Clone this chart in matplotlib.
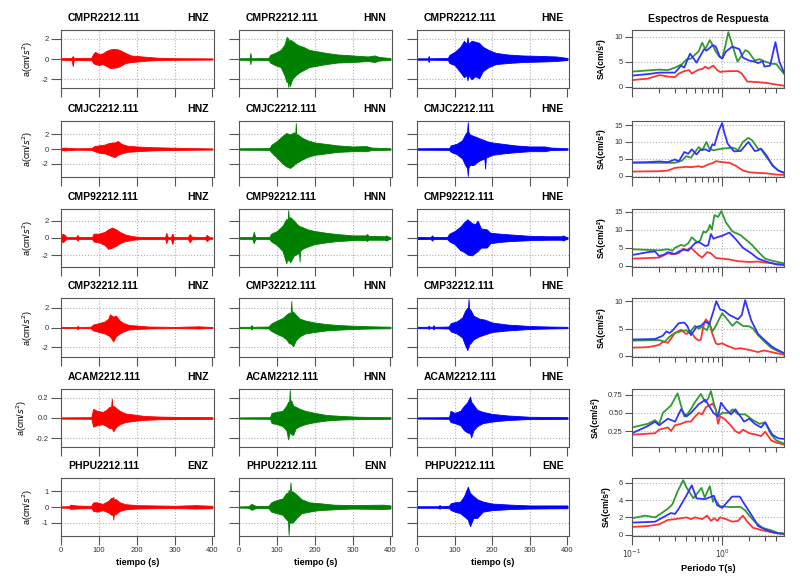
import numpy as np
import matplotlib.pyplot as plt

plt.rcParams['font.family'] = ['Liberation Sans', 'DejaVu Sans']
plt.rcParams['axes.unicode_minus'] = False

# --- stations / components ---
stations = ['CMPR2212.111', 'CMJC2212.111', 'CMP92212.111',
            'CMP32212.111', 'ACAM2212.111', 'PHPU2212.111']
components = [['HNZ', 'HNN', 'HNE']] * 5 + [['ENZ', 'ENN', 'ENE']]

# --- acceleration envelopes: (t [s], upper, lower) ---
cmpr_z = [(0, .08, -.08), (28, .1, -.1), (31, .3, -.7), (34, .1, -.1), (80, .12, -.12), (85, .5, -.4),
          (90, .7, -.5), (100, .5, -.6), (110, .55, -.5), (120, .8, -.7), (130, .95, -.9), (140, 1.0, -.85),
          (150, .95, -.8), (160, .8, -.6), (170, .6, -.4), (185, .35, -.3), (200, .3, -.25), (230, .2, -.15),
          (260, .12, -.1), (300, .08, -.08), (400, .06, -.06)]
cmpr_n = [(0, .08, -.08), (28, .08, -.08), (30, .6, -.5), (32, .08, -.08), (78, .1, -.1), (82, .4, -.35),
          (95, .6, -.6), (110, .9, -.8), (120, 1.4, -1.6), (126, 2.2, -2.3), (128, 1.6, -1.8), (130, 2.1, -2.75),
          (131.5, 1.5, -1.9), (134, 1.9, -2.7), (140, 1.8, -2.0), (150, 1.5, -1.6), (160, 1.3, -1.3),
          (170, 1.2, -1.1), (185, .9, -.8), (200, .8, -.7), (230, .6, -.5), (260, .45, -.35), (300, .35, -.3),
          (340, .25, -.2), (358, .35, -.3), (370, .2, -.15), (400, .1, -.1)]
cmpr_e = [(0, .07, -.07), (29, .07, -.07), (31, .3, -.3), (33, .07, -.07), (82, .1, -.1), (86, .4, -.4),
          (100, .7, -.6), (115, 1.2, -1.3), (125, 1.8, -1.8), (132, 1.5, -1.6), (134, 2.15, -2.1), (137, 1.5, -1.6),
          (145, 1.8, -2.0), (155, 1.7, -1.7), (165, 1.6, -1.9), (175, 1.2, -1.2), (190, .9, -.8), (210, .6, -.5),
          (240, .45, -.4), (280, .35, -.3), (330, .3, -.25), (370, .25, -.2), (400, .1, -.1)]

cmjc_z = [(0, .15, -.15), (10, .2, -.2), (20, .15, -.15), (40, .1, -.1), (80, .12, -.12), (88, .4, -.3),
          (100, .5, -.5), (115, .6, -.6), (125, .8, -.8), (135, .9, -1.0), (142, .9, -1.1), (150, 1.1, -.8),
          (160, .7, -.6), (175, .45, -.4), (200, .35, -.3), (240, .25, -.2), (280, .2, -.15), (320, .15, -.12),
          (400, .08, -.08)]
cmjc_n = [(0, .1, -.1), (80, .12, -.12), (86, .6, -.5), (100, 1.1, -1.2), (115, 1.8, -2.0), (125, 2.2, -2.4),
          (135, 2.0, -2.6), (145, 2.3, -2.2), (148.5, 2.0, -1.9), (150, 3.55, -2.0), (151.5, 2.0, -1.9),
          (155, 2.0, -1.8), (165, 1.6, -1.5), (180, 1.2, -1.1), (200, .9, -.8), (230, .7, -.6), (260, .5, -.4),
          (300, .35, -.3), (336, .4, -.3), (350, .2, -.15), (400, .1, -.1)]
cmjc_e = [(0, .1, -.1), (85, .12, -.12), (90, .5, -.4), (105, .7, -.7), (120, 1.2, -1.3), (128, 2.0, -2.2),
          (133, 2.4, -2.6), (135, 3.7, -3.7), (136.5, 2.4, -2.6), (140, 2.0, -2.2), (150, 1.8, -2.2),
          (165, 1.5, -1.6), (179, 1.2, -1.3), (181, 1.2, -2.7), (183, 1.1, -1.2), (200, .9, -.8), (230, .7, -.6),
          (260, .5, -.45), (300, .35, -.3), (340, .35, -.3), (355, .2, -.15), (400, .1, -.1)]

cmp9_z = [(0, .1, -.1), (4, .5, -.5), (10, .35, -.3), (14, .1, -.1), (40, .1, -.1), (43, .35, -.3), (47, .1, -.1),
          (82, .12, -.12), (86, .5, -.4), (100, .5, -.5), (115, .7, -.8), (125, 1.0, -1.25), (135, 1.2, -1.1),
          (145, 1.0, -.9), (155, .7, -.6), (170, .4, -.35), (190, .2, -.2), (210, .12, -.12), (275, .1, -.1),
          (278, .6, -.6), (282, .1, -.1), (290, .1, -.1), (294, .5, -.7), (298, .1, -.1), (335, .1, -.1),
          (340, .45, -.5), (345, .15, -.15), (380, .1, -.1), (385, .35, -.35), (392, .1, -.1), (400, .08, -.08)]
cmp9_n = [(0, .1, -.1), (35, .1, -.1), (39, .7, -.6), (43, .1, -.1), (80, .12, -.12), (85, .5, -.4),
          (100, .8, -.8), (115, 1.4, -1.5), (125, 2.2, -2.9), (128.5, 2.0, -2.2), (130, 3.2, -2.6),
          (131.5, 2.2, -2.4), (135, 2.4, -2.8), (145, 2.0, -2.0), (155, 1.5, -1.8), (158.5, 1.4, -1.6),
          (160, 1.4, -2.7), (161.5, 1.3, -1.5), (165, 1.3, -1.3), (180, 1.0, -1.0), (200, .8, -.7), (230, .6, -.5),
          (260, .45, -.35), (300, .3, -.25), (335, .3, -.25), (338, .45, -.35), (342, .25, -.2), (385, .2, -.2),
          (389, .3, -.3), (395, .15, -.15), (400, .1, -.1)]
cmp9_e = [(0, .12, -.12), (36, .1, -.1), (40, .3, -.3), (44, .1, -.1), (80, .12, -.12), (86, .5, -.4),
          (100, .8, -.7), (115, 1.3, -1.4), (125, 1.8, -1.6), (134, 2.15, -1.9), (146, 1.7, -2.0), (155, 1.6, -1.7),
          (161, 2.0, -1.5), (170, 1.1, -1.1), (185, 1.0, -1.1), (195, .6, -.6), (220, .5, -.45), (250, .4, -.35),
          (300, .25, -.25), (350, .2, -.2), (385, .2, -.2), (388, .3, -.3), (395, .15, -.15), (400, .1, -.1)]

cmp3_z = [(0, .05, -.05), (40, .05, -.05), (44, .15, -.15), (48, .05, -.05), (78, .08, -.08), (85, .3, -.3),
          (100, .45, -.45), (115, .6, -.6), (125, .9, -.8), (129, 1.33, -.9), (138, 1.1, -1.4), (145, 1.2, -.9),
          (155, .7, -.6), (165, .45, -.4), (180, .25, -.2), (200, .2, -.15), (230, .1, -.1), (300, .06, -.06),
          (362, .12, -.1), (400, .05, -.05)]
cmp3_n = [(0, .07, -.07), (30, .07, -.07), (33, .25, -.2), (36, .07, -.07), (78, .1, -.1), (85, .4, -.35),
          (100, .7, -.65), (115, .95, -.9), (125, 1.3, -1.2), (132, 1.5, -1.6), (136.5, 1.5, -1.6),
          (138, 2.67, -1.7), (139.5, 1.6, -1.7), (143, 1.6, -1.9), (150, 1.3, -1.3), (160, .9, -.9),
          (175, .7, -.6), (200, .5, -.45), (230, .35, -.3), (262, .25, -.22), (300, .18, -.15), (350, .12, -.1),
          (400, .08, -.08)]
cmp3_e = [(0, .07, -.07), (29, .07, -.07), (31, .2, -.15), (33, .07, -.07), (42, .07, -.07), (44, .25, -.2),
          (46, .07, -.07), (84, .1, -.1), (90, .45, -.4), (105, .6, -.6), (120, 1.0, -1.0), (128, 1.7, -1.8),
          (134, 2.0, -2.3), (135.5, 1.9, -2.0), (137, 2.87, -2.0), (138.5, 1.9, -1.7), (142, 1.8, -1.6),
          (150, 1.2, -1.2), (165, .9, -.9), (180, .8, -.7), (200, .5, -.45), (240, .3, -.3), (300, .15, -.15),
          (350, .1, -.1), (400, .07, -.07)]

acam_z = [(0, .006, -.006), (80, .008, -.008), (85, .09, -.085), (95, .07, -.07), (110, .06, -.06),
          (120, .08, -.08), (128, .11, -.1), (132.5, .11, -.1), (134, .19, -.1), (135.5, .12, -.11),
          (138, .12, -.13), (145, .1, -.09), (155, .07, -.06), (170, .045, -.04), (190, .035, -.03),
          (220, .02, -.018), (260, .014, -.012), (320, .01, -.01), (400, .008, -.008)]
acam_n = [(0, .006, -.006), (82, .008, -.008), (86, .05, -.05), (100, .06, -.06), (115, .07, -.08),
          (125, .12, -.12), (130, .16, -.21), (132.5, .16, -.15), (134, .273, -.15), (135.5, .17, -.15),
          (138, .17, -.16), (143, .12, -.165), (150, .11, -.1), (160, .09, -.08), (175, .07, -.06),
          (200, .05, -.04), (230, .03, -.025), (270, .02, -.015), (320, .012, -.01), (400, .008, -.008)]
acam_e = [(0, .006, -.006), (85, .008, -.008), (89, .07, -.04), (100, .05, -.05), (115, .07, -.07),
          (125, .12, -.12), (133, .15, -.14), (141, .21, -.15), (144, .16, -.19), (150, .13, -.12),
          (160, .08, -.08), (175, .06, -.05), (200, .04, -.035), (240, .025, -.02), (300, .012, -.01),
          (400, .008, -.008)]

phpu_z = [(0, .04, -.04), (20, .05, -.05), (25, .15, -.12), (40, .1, -.1), (60, .08, -.08), (80, .08, -.08),
          (85, .3, -.25), (95, .3, -.3), (110, .2, -.2), (125, .4, -.35), (133, .6, -.5), (136.5, .55, -.5),
          (138, .65, -.81), (139.5, .5, -.5), (145, .5, -.45), (155, .3, -.25), (170, .18, -.15), (200, .12, -.1),
          (250, .1, -.08), (300, .08, -.07), (355, .12, -.1), (400, .08, -.08)]
phpu_n = [(0, .04, -.04), (25, .05, -.05), (33, .2, -.18), (45, .06, -.06), (78, .08, -.08), (85, .3, -.3),
          (100, .45, -.4), (115, .55, -.5), (125, .9, -.8), (129.5, .9, -.9), (131, 1.1, -1.79), (132.5, 1.0, -1.0),
          (134.5, 1.0, -1.0), (136, 1.58, -1.0), (137.5, 1.0, -1.0), (142, 1.0, -1.0), (152, .8, -.7),
          (165, .5, -.4), (185, .3, -.3), (210, .25, -.2), (250, .15, -.15), (300, .12, -.1), (380, .15, -.13),
          (400, .1, -.1)]
phpu_e = [(0, .05, -.05), (55, .05, -.05), (60, .12, -.1), (65, .05, -.05), (85, .08, -.08), (90, .25, -.2),
          (100, .3, -.3), (115, .35, -.4), (125, .7, -.6), (135, 1.3, -.8), (141, .9, -1.23), (150, .7, -.7),
          (160, .5, -.7), (175, .35, -.3), (200, .22, -.2), (250, .15, -.13), (300, .1, -.1), (400, .1, -.08)]

traces = [[cmpr_z, cmpr_n, cmpr_e], [cmjc_z, cmjc_n, cmjc_e], [cmp9_z, cmp9_n, cmp9_e],
          [cmp3_z, cmp3_n, cmp3_e], [acam_z, acam_n, acam_e], [phpu_z, phpu_n, phpu_e]]

# --- response spectra: (period [s], SA) ---
sa_cmpr_z = [(.1, 1.3), (.15, 1.6), (.2, 2.3), (.22, 2.2), (.25, 2.0), (.3, 1.9), (.33, 2.6), (.38, 3.1), (.43, 3.3),
             (.46, 2.6), (.5, 3.0), (.55, 3.4), (.6, 3.5), (.65, 4.0), (.7, 3.6), (.8, 4.2), (.88, 3.3), (.95, 2.9),
             (1.0, 3.0), (1.2, 3.1), (1.5, 3.1), (1.65, 2.6), (1.9, 1.0), (2.5, .9), (3.2, .7), (4.0, .4), (5.0, .15)]
sa_cmpr_n = [(.1, 3.0), (.2, 3.4), (.25, 3.3), (.3, 3.8), (.36, 4.5), (.4, 5.4), (.45, 5.6), (.55, 7.1), (.6, 8.8),
             (.65, 7.5), (.73, 9.3), (.8, 8.0), (.85, 7.0), (.93, 6.0), (1.0, 5.7), (1.08, 8.0), (1.17, 10.9),
             (1.48, 5.0), (1.81, 7.3), (1.95, 7.0), (2.3, 5.2), (2.6, 5.5), (3.0, 5.0), (3.5, 4.6), (4.0, 4.5),
             (4.4, 3.5), (5.0, 2.3)]
sa_cmpr_e = [(.1, 2.2), (.15, 2.5), (.2, 2.8), (.3, 2.8), (.35, 4.2), (.38, 3.8), (.44, 6.6), (.52, 4.8),
             (.63, 7.5), (.67, 7.2), (.79, 8.3), (.85, 8.0), (.94, 6.0), (1.0, 5.6), (1.1, 7.0), (1.29, 8.0),
             (1.55, 7.5), (1.7, 5.8), (2.0, 5.2), (2.3, 5.0), (2.5, 4.7), (2.8, 5.1), (2.95, 4.0), (3.4, 4.2),
             (3.9, 8.9), (4.3, 5.0), (5.0, 2.3)]

sa_cmjc_z = [(.1, 1.2), (.2, 1.3), (.25, 1.5), (.3, 2.3), (.4, 2.6), (.45, 2.5), (.55, 2.8), (.6, 2.5), (.7, 3.3),
             (.8, 3.8), (.85, 4.3), (1.0, 4.0), (1.2, 3.8), (1.4, 3.0), (1.7, 1.5), (2.0, 1.0), (2.5, .8),
             (3.0, .7), (3.5, .5), (4.0, .3), (5.0, .2)]
sa_cmjc_n = [(.1, 3.8), (.2, 3.8), (.3, 3.8), (.36, 4.5), (.4, 5.8), (.45, 5.3), (.5, 7.0), (.55, 8.5), (.6, 7.5),
             (.67, 10.0), (.72, 8.0), (.8, 7.5), (.9, 7.8), (1.0, 8.0), (1.3, 8.3), (1.4, 8.0), (1.5, 7.5),
             (1.7, 10.0), (1.95, 11.2), (2.15, 10.5), (2.5, 8.0), (2.7, 7.8), (3.2, 5.0), (3.8, 2.5), (4.2, 1.5),
             (5.0, .7)]
sa_cmjc_e = [(.1, 3.9), (.15, 4.0), (.2, 4.2), (.25, 4.0), (.3, 4.8), (.33, 4.2), (.38, 7.0), (.42, 6.5),
             (.46, 7.8), (.52, 6.3), (.57, 7.6), (.65, 7.8), (.72, 7.2), (.78, 9.3), (.82, 9.0), (.92, 13.5),
             (1.0, 15.6), (1.05, 13.0), (1.15, 9.5), (1.35, 7.2), (1.6, 7.3), (1.95, 10.0), (2.1, 8.8), (2.3, 7.3),
             (2.5, 7.5), (2.7, 8.0), (3.1, 6.0), (3.6, 3.0), (4.2, 1.5), (5.0, .7)]

sa_cmp9_z = [(.1, 2.0), (.2, 2.3), (.22, 2.8), (.25, 3.5), (.28, 3.2), (.33, 3.5), (.37, 4.8), (.4, 4.3),
             (.45, 5.0), (.55, 3.0), (.6, 2.3), (.68, 3.8), (.75, 3.5), (.85, 2.2), (1.0, 2.0), (1.2, 1.8),
             (1.5, 1.3), (2.0, 1.1), (2.5, 1.2), (3.0, .9), (3.5, .8), (4.0, .4), (5.0, .3)]
sa_cmp9_n = [(.1, 4.6), (.2, 4.3), (.25, 4.6), (.28, 4.2), (.3, 5.0), (.35, 5.8), (.38, 5.5), (.42, 6.2),
             (.46, 7.9), (.53, 6.5), (.57, 7.0), (.62, 9.5), (.66, 9.2), (.7, 10.0), (.73, 11.3), (.77, 10.0),
             (.82, 14.0), (.9, 13.5), (.98, 15.1), (1.1, 12.0), (1.3, 9.5), (1.6, 8.5), (2.1, 6.0), (2.6, 3.5),
             (3.0, 2.0), (3.5, 1.5), (4.0, 1.2), (5.0, .6)]
sa_cmp9_e = [(.1, 3.0), (.15, 3.8), (.18, 4.0), (.2, 2.7), (.23, 3.2), (.25, 3.8), (.3, 3.3), (.33, 4.0),
             (.38, 4.5), (.42, 4.2), (.5, 6.3), (.55, 6.6), (.65, 5.5), (.7, 5.7), (.75, 8.8), (.8, 7.5),
             (.9, 8.0), (1.0, 8.3), (1.2, 9.2), (1.4, 7.5), (1.7, 5.0), (2.1, 3.5), (2.5, 2.0), (3.0, 1.3),
             (3.5, .8), (4.0, .5), (5.0, .3)]

sa_cmp3_z = [(.1, 1.5), (.15, 1.6), (.2, 2.0), (.22, 2.6), (.25, 2.4), (.28, 3.5), (.3, 4.2), (.35, 4.8),
             (.4, 4.0), (.45, 4.5), (.5, 3.3), (.55, 2.8), (.58, 3.0), (.62, 5.5), (.66, 6.7), (.72, 6.0),
             (.78, 4.0), (.85, 2.3), (.9, 2.1), (1.0, 2.3), (1.15, 1.8), (1.4, 1.3), (1.6, 1.4), (2.0, 1.1),
             (2.5, .7), (2.9, 1.0), (3.3, .8), (4.0, .5), (5.0, .2)]
sa_cmp3_n = [(.1, 2.8), (.2, 2.9), (.23, 2.6), (.26, 3.5), (.3, 4.2), (.35, 4.5), (.4, 4.7), (.43, 4.2),
             (.46, 4.8), (.5, 5.5), (.55, 5.0), (.6, 5.3), (.68, 4.7), (.72, 6.0), (.78, 4.5), (.85, 5.5),
             (1.0, 7.8), (1.1, 7.0), (1.3, 5.5), (1.45, 6.3), (1.7, 5.5), (2.0, 5.4), (2.2, 5.0), (2.5, 3.8),
             (3.0, 2.5), (3.5, 1.5), (4.0, 1.0), (5.0, .4)]
sa_cmp3_e = [(.1, 3.0), (.18, 3.1), (.22, 3.7), (.24, 4.5), (.26, 4.2), (.28, 4.6), (.33, 6.0), (.38, 6.1),
             (.41, 5.5), (.45, 3.8), (.52, 5.3), (.58, 5.5), (.65, 6.3), (.72, 5.8), (.8, 8.2), (.86, 10.0),
             (.95, 8.5), (1.05, 8.3), (1.2, 7.5), (1.5, 6.7), (1.65, 7.5), (1.8, 10.2), (2.1, 6.5), (2.5, 4.0),
             (3.0, 2.8), (3.5, 1.8), (4.0, 1.2), (5.0, .4)]

sa_acam_z = [(.1, .2), (.18, .22), (.2, .27), (.25, .3), (.27, .25), (.3, .33), (.35, .35), (.4, .38), (.45, .38),
             (.5, .45), (.55, .5), (.6, .48), (.66, .58), (.72, .6), (.78, .63), (.85, .55), (.9, .35), (.95, .45),
             (1.05, .42), (1.2, .35), (1.4, .25), (1.55, .22), (1.7, .27), (2.0, .22), (2.4, .2), (2.7, .18),
             (3.0, .24), (3.5, .12), (4.0, .09), (5.0, .06)]
sa_acam_n = [(.1, .3), (.15, .35), (.18, .4), (.2, .35), (.22, .5), (.27, .6), (.32, .77), (.35, .6), (.38, .45),
             (.42, .5), (.45, .55), (.5, .65), (.58, .76), (.65, .65), (.7, .7), (.75, .8), (.82, .6), (.9, .45),
             (1.0, .5), (1.2, .5), (1.3, .55), (1.5, .48), (1.8, .48), (2.2, .4), (2.6, .35), (3.0, .37),
             (3.5, .2), (4.0, .12), (5.0, .07)]
sa_acam_e = [(.1, .22), (.15, .32), (.18, .38), (.2, .33), (.25, .42), (.3, .38), (.35, .55), (.4, .45),
             (.45, .5), (.55, .62), (.65, .68), (.8, .5), (.9, .45), (.97, .64), (1.1, .55), (1.25, .48),
             (1.4, .55), (1.6, .45), (1.75, .38), (2.0, .42), (2.3, .35), (2.7, .3), (3.0, .37), (3.6, .2),
             (4.2, .15), (5.0, .14)]

sa_phpu_z = [(.1, .9), (.15, 1.0), (.2, 1.2), (.25, 1.7), (.3, 1.8), (.35, 1.9), (.4, 2.0), (.45, 1.8), (.5, 2.0),
             (.6, 1.8), (.68, 2.2), (.75, 1.6), (.82, 1.9), (.88, 1.6), (.95, 2.0), (1.1, 1.8), (1.3, 1.5),
             (1.5, 1.6), (1.7, 2.2), (1.9, 1.5), (2.2, .8), (2.8, .5), (3.5, .3), (4.2, .15), (5.0, .1)]
sa_phpu_n = [(.1, 1.9), (.14, 2.2), (.18, 2.0), (.2, 2.3), (.25, 3.0), (.28, 3.5), (.32, 5.0), (.37, 6.3),
             (.4, 5.5), (.48, 4.2), (.59, 5.4), (.64, 4.3), (.73, 5.6), (.79, 3.8), (.82, 4.2), (.94, 3.3),
             (1.2, 3.2), (1.6, 3.2), (1.8, 2.8), (2.0, 2.2), (2.3, 1.5), (2.8, .8), (3.5, .5), (4.2, .2), (5.0, .1)]
sa_phpu_e = [(.1, 1.4), (.18, 1.5), (.22, 2.0), (.27, 2.5), (.3, 2.4), (.33, 3.0), (.4, 4.5), (.46, 5.7),
             (.52, 4.2), (.64, 4.1), (.81, 4.5), (.88, 3.4), (1.0, 3.1), (1.29, 4.4), (1.57, 4.4), (1.7, 3.8),
             (2.2, 2.0), (2.5, 1.0), (3.0, .6), (3.6, .3), (4.2, .15), (5.0, .1)]

spectra = [[sa_cmpr_z, sa_cmpr_n, sa_cmpr_e], [sa_cmjc_z, sa_cmjc_n, sa_cmjc_e], [sa_cmp9_z, sa_cmp9_n, sa_cmp9_e],
           [sa_cmp3_z, sa_cmp3_n, sa_cmp3_e], [sa_acam_z, sa_acam_n, sa_acam_e], [sa_phpu_z, sa_phpu_n, sa_phpu_e]]

acc_ticks = [[-2, 0, 2]] * 4 + [[-0.2, 0.0, 0.2], [-1, 0, 1]]
sa_ticks = [[0, 5, 10], [0, 5, 10, 15], [0, 5, 10, 15], [0, 5, 10], [0.25, 0.5, 0.75], [0, 2, 4, 6]]

trace_colors = ['#ff0000', '#008000', '#0000ff']
spec_colors = ['#ff3333', '#339933', '#3333ff']

# --- layout (pixels of the 800x583 picture) ---
W, H = 800, 583
col_x = [(61, 214), (239, 392), (417, 569), (632, 784)]
row_y = [(30, 88), (121, 177), (209, 267), (298, 357), (389, 447), (478, 536)]
frame_col = '#555555'
grid_kw = dict(color='#b0b0b0', ls=':', lw=0.8)


def rect(xs, ys):
    return [xs[0] / W, 1 - ys[1] / H, (xs[1] - xs[0]) / W, (ys[1] - ys[0]) / H]


def style(ax):
    for s in ax.spines.values():
        s.set_color(frame_col)
        s.set_linewidth(0.8)
    ax.tick_params(direction='out', color=frame_col, width=0.8, labelsize=5.5,
                   labelcolor='#333333', pad=1.5)
    ax.set_axisbelow(True)


fig = plt.figure(figsize=(8, 5.83), dpi=100)

for r in range(6):
    m = max(max(abs(k[1]), abs(k[2])) for tr in traces[r] for k in tr) * 1.04
    for c in range(3):
        ax = fig.add_axes(rect(col_x[c], row_y[r]))
        style(ax)
        kn = traces[r][c]
        t = [k[0] for k in kn]
        ax.fill_between(t, [k[2] for k in kn], [k[1] for k in kn],
                        color=trace_colors[c], lw=0.6)
        ax.set_xlim(0, 404)
        ax.set_ylim(-m, m)
        ax.set_xticks([0, 100, 200, 300, 400])
        ax.set_yticks(acc_ticks[r])
        ax.tick_params(axis='y', length=7.5)
        ax.tick_params(axis='x', length=6.5)
        for v in [100, 200, 300]:
            ax.axvline(v, **grid_kw, zorder=0)
        for v in acc_ticks[r]:
            ax.axhline(v, **grid_kw, zorder=0)
        if c == 0:
            if r == 4:
                ax.set_yticklabels(['-0.2', '0.0', '0.2'])
            ax.set_ylabel('a(cm/$s^2$)', fontsize=6.5, labelpad=5)
        else:
            ax.set_yticklabels([])
        if r == 5:
            ax.set_xlabel('tiempo (s)', fontsize=6.5, fontweight='bold', labelpad=3)
        else:
            ax.set_xticklabels([])
        ax.annotate(stations[r], xy=(0, 1), xycoords='axes fraction', xytext=(5, 5),
                    textcoords='offset points', ha='left', va='bottom',
                    fontsize=7.5, fontweight='bold')
        ax.annotate(components[r][c], xy=(1, 1), xycoords='axes fraction', xytext=(-4, 5),
                    textcoords='offset points', ha='right', va='bottom',
                    fontsize=7.5, fontweight='bold')

    # response spectra
    ax = fig.add_axes(rect(col_x[3], row_y[r]))
    style(ax)
    allv = [p[1] for sp in spectra[r] for p in sp]
    lo, hi = min(allv), max(allv)
    pad = 0.04 * (hi - lo)
    for c in range(3):
        sp = spectra[r][c]
        ax.plot([p[0] for p in sp], [p[1] for p in sp], color=spec_colors[c], lw=1.3)
    ax.set_xscale('log')
    ax.set_xlim(0.1, 4.85)
    ax.set_ylim(lo - pad, hi + pad)
    ax.set_xticks([0.1, 1])
    ax.set_xticks([0.2, 0.3, 0.4, 0.5, 0.6, 0.7, 0.8, 0.9, 2, 3, 4], minor=True)
    ax.set_yticks(sa_ticks[r])
    ax.tick_params(axis='y', length=5)
    ax.tick_params(axis='x', which='major', length=6.5)
    ax.tick_params(axis='x', which='minor', length=3.5, color=frame_col, width=0.8)
    ax.axvline(1, **grid_kw, zorder=0)
    for v in sa_ticks[r]:
        ax.axhline(v, **grid_kw, zorder=0)
    if r == 4:
        ax.set_yticklabels(['0.25', '0.50', '0.75'])
    ax.set_ylabel('SA(cm/s²)', fontsize=6.3, fontweight='bold', labelpad=6)
    if r == 5:
        ax.set_xticklabels(['$10^{-1}$', '$10^{0}$'])
        ax.set_xlabel('Periodo T(s)', fontsize=6.7, fontweight='bold', labelpad=3)
    else:
        ax.set_xticklabels([])
    ax.set_xticklabels([], minor=True)
    if r == 0:
        ax.set_title('Espectros de Respuesta', fontsize=7.5, fontweight='bold', pad=6)

fig.savefig('out.png', dpi=100)
